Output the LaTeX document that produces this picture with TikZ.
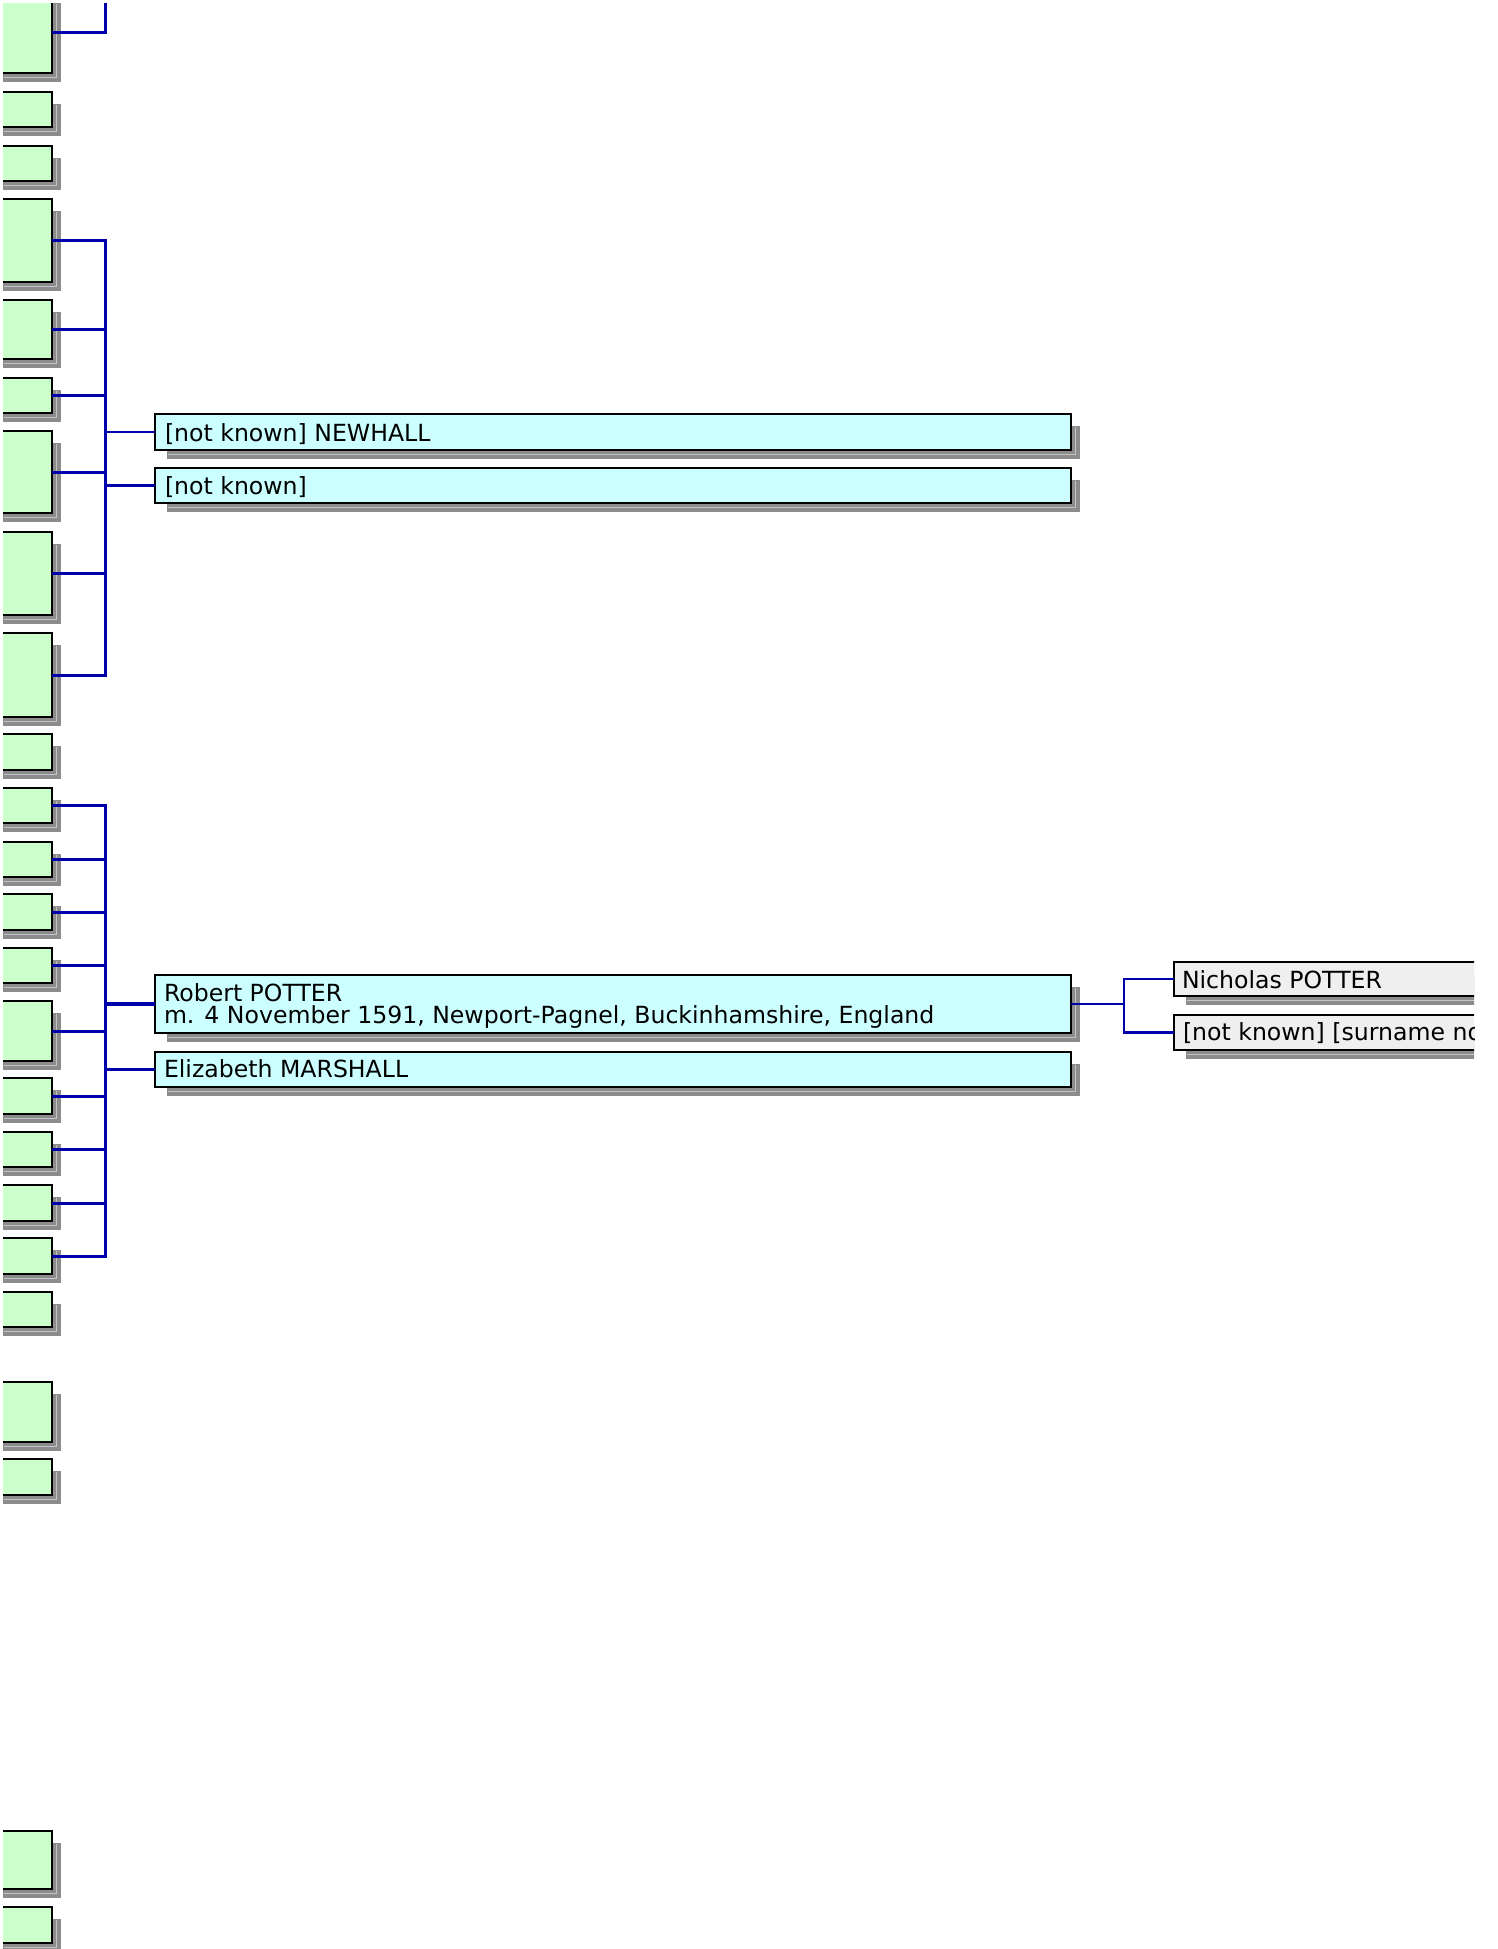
\documentclass[tikz,border=0pt]{standalone}
\usepackage{fontspec}
\setmainfont{DejaVu Sans}
\definecolor{gfill}{HTML}{CCFFCC}
\definecolor{cfill}{HTML}{CCFFFF}
\definecolor{nfill}{HTML}{EFEFEF}
\definecolor{shadowgray}{HTML}{8C8C8C}
\definecolor{shadowlight}{HTML}{C4C4C4}
\definecolor{lineblue}{HTML}{0000AA}
\tikzset{
  boxbase/.style={draw=black, line width=1.1pt, inner sep=0pt, outer sep=0pt},
  gbox/.style={boxbase, fill=gfill},
  cbox/.style={boxbase, fill=cfill},
  nbox/.style={boxbase, fill=nfill},
  txt/.style={inner sep=0pt, outer sep=0pt, anchor=base west, font=\fontsize{23.6}{24}\selectfont},
  famline/.style={draw=lineblue, line width=3pt},
  thinline/.style={draw=lineblue, line width=2.5pt},
  wifeline/.style={draw=lineblue, line width=3.3pt},
}
% #1 name, #2 style, #3 left, #4 top, #5 right, #6 bottom
\newcommand\shbox[6]{%
  \fill[shadowgray] ({#3+12},{#4+12}) rectangle ({#5+9},{#6+9});
  \draw[shadowlight, line width=0.9pt] ({#5+4.5},{#4+13}) -- ({#5+4.5},{#6+4.5}) -- ({#3+13},{#6+4.5});
  \node[#2, minimum width={#5-#3}, minimum height={#6-#4}] (#1) at ({(#3+#5)/2},{(#4+#6)/2}) {};
}
\begin{document}
\begin{tikzpicture}[x=1pt,y=-1pt]
\useasboundingbox (0,0) rectangle (1498,1949);
\begin{scope}
\clip (3,3) rectangle (1474,1949);
% left column of ancestor boxes
\shbox{g1}{gbox}{-9}{-9}{52}{73}
\shbox{g2}{gbox}{-9}{92}{52}{127}
\shbox{g3}{gbox}{-9}{146}{52}{181}
\shbox{g4}{gbox}{-9}{199}{52}{282}
\shbox{g5}{gbox}{-9}{300}{52}{359}
\shbox{g6}{gbox}{-9}{378}{52}{413}
\shbox{g7}{gbox}{-9}{431}{52}{513}
\shbox{g8}{gbox}{-9}{532}{52}{615}
\shbox{g9}{gbox}{-9}{633}{52}{717}
\shbox{g10}{gbox}{-9}{734}{52}{770}
\shbox{g11}{gbox}{-9}{788}{52}{823}
\shbox{g12}{gbox}{-9}{842}{52}{877}
\shbox{g13}{gbox}{-9}{894}{52}{930}
\shbox{g14}{gbox}{-9}{948}{52}{983}
\shbox{g15}{gbox}{-9}{1001}{52}{1061}
\shbox{g16}{gbox}{-9}{1078}{52}{1114}
\shbox{g17}{gbox}{-9}{1132}{52}{1167}
\shbox{g18}{gbox}{-9}{1185}{52}{1221}
\shbox{g19}{gbox}{-9}{1238}{52}{1274}
\shbox{g20}{gbox}{-9}{1292}{52}{1327}
\shbox{g21}{gbox}{-9}{1382}{52}{1442}
\shbox{g22}{gbox}{-9}{1459}{52}{1495}
\shbox{g23}{gbox}{-9}{1831}{52}{1889}
\shbox{g24}{gbox}{-9}{1907}{52}{1943}
% couples
\shbox{p1}{cbox}{155}{414}{1071}{450}
\shbox{p2}{cbox}{155}{468}{1071}{503}
\shbox{p3}{cbox}{155}{975}{1071}{1033}
\shbox{p4}{cbox}{155}{1052}{1071}{1087}
% parents of Robert
\shbox{n1}{nbox}{1174}{962}{1700}{996}
\shbox{n2}{nbox}{1174}{1015}{1700}{1050}
% texts
\node[txt] (p1t) at (165,441) {[not known] NEWHALL};
\node[txt] (p2t) at (165,494) {[not known]};
\node[txt] (p3t) at (164,1001) {Robert POTTER};
\node[txt] (p3u) at (164,1023.5) {m. 4 November 1591, Newport-Pagnel, Buckinhamshire, England};
\node[txt] (p4t) at (164,1077) {Elizabeth MARSHALL};
\node[txt] (n1t) at (1182,988) {Nicholas POTTER};
\node[txt] (n2t) at (1183,1040) {[not known] [surname no};
% connectors
\coordinate (bus0) at (105,0);
\coordinate (bus1) at (105,0);
\coordinate (bus2) at (105,0);
\coordinate (bus3) at (1124,0);
\draw[famline] (g1.east) -| (bus0);
\draw[famline] (g4.east) -| (bus1 |- g9.east) -- (g9.east);
\foreach \g in {g5,g6,g7,g8} \draw[famline] (\g.east) -- (\g.east -| bus1);
\draw[thinline] (bus1 |- p1.west) -- (p1.west);
\draw[wifeline] (bus1 |- p2.west) -- (p2.west);
\draw[famline] (g11.east) -| (bus2 |- g19.east) -- (g19.east);
\foreach \g in {g12,g13,g14,g15,g16,g17,g18} \draw[famline] (\g.east) -- (\g.east -| bus2);
\draw[wifeline] (bus2 |- p3.west) -- (p3.west);
\draw[wifeline] (bus2 |- p4.west) -- (p4.west);
\draw[thinline] (p3.east) -- (p3.east -| bus3);
\draw[thinline] (n1.west) -- (n1.west -| bus3) -- (n2.west -| bus3) -- (n2.west);
\end{scope}
\end{tikzpicture}
\end{document}
